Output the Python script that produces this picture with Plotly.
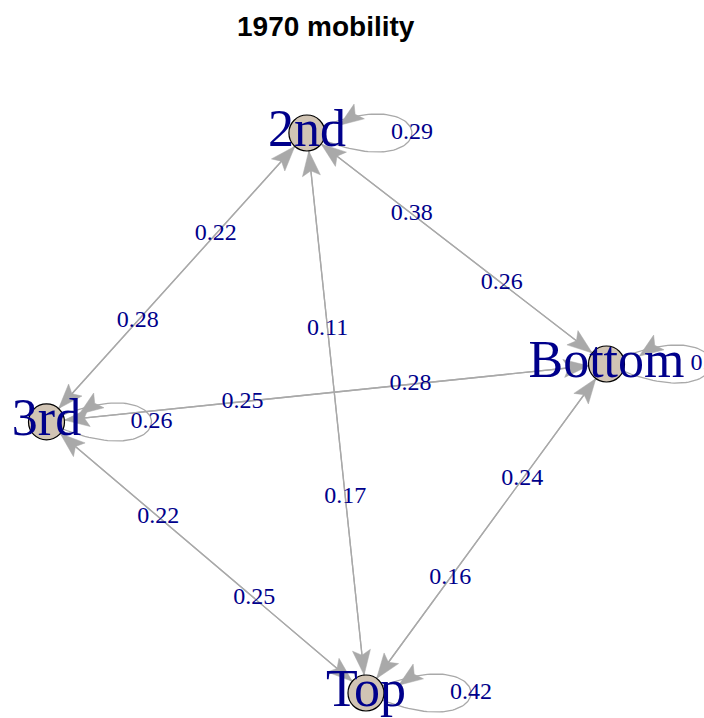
import numpy as np
import plotly.graph_objects as go

# ---------------- data ----------------
node_names = ["2nd", "Bottom", "3rd", "Top"]
# layout coordinates (igraph-style, rescaled to [-1, 1])
node_x = [-0.070, 1.000, -1.000, 0.141]
node_y = [1.000, 0.175, -0.032, -1.000]

edge_from = ["2nd", "3rd", "2nd", "Bottom", "2nd", "Top", "Bottom", "3rd", "3rd", "Top", "Bottom", "Top"]
edge_to = ["3rd", "2nd", "Bottom", "2nd", "Top", "2nd", "3rd", "Bottom", "Top", "3rd", "Top", "Bottom"]
edge_weight = [0.22, 0.28, 0.38, 0.26, 0.11, 0.17, 0.28, 0.25, 0.22, 0.25, 0.24, 0.16]

loop_nodes = ["2nd", "Bottom", "3rd", "Top"]
loop_weight = [0.29, 0.22, 0.26, 0.42]

title_text = "1970 mobility"

# ---------------- styling ----------------
W, H = 704, 718
PX = 280.0                      # pixels per layout unit
CX, CY = 326.5, 413.0           # pixel position of layout origin
EDGE_COL = "#A9A9A9"
LAB_COL = "#00008B"
NODE_FILL = "#D1C4B4"
R_NODE = 18.0 / PX
ARR_L, ARR_W, ARR_N = 25.0 / PX, 9.0 / PX, 5.0 / PX
LOOP_W, LOOP_H = 140.0 / PX, 66.0 / PX
LABEL_T = 0.35

pos = {n: np.array([x, y]) for n, x, y in zip(node_names, node_x, node_y)}

fig = go.Figure()


def arrow_poly(tip, u, L=ARR_L, Wd=ARR_W, N=ARR_N):
    """u: unit vector pointing from tip backwards along the shaft."""
    n = np.array([-u[1], u[0]])
    back = tip + L * u
    notch = tip + (L - N) * u
    pts = [tip, back + Wd * n, notch, back - Wd * n, tip]
    return [p[0] for p in pts], [p[1] for p in pts]


# edge lines
lx, ly = [], []
for s, t in zip(edge_from, edge_to):
    a, b = pos[s], pos[t]
    lx += [a[0], b[0], None]
    ly += [a[1], b[1], None]
fig.add_trace(go.Scatter(x=lx, y=ly, mode="lines", line=dict(color=EDGE_COL, width=1.3),
                         hoverinfo="skip", showlegend=False))

# loops
tt = np.linspace(0, 1, 80)
loop_arrows = []
for n in loop_nodes:
    c = pos[n]
    P0, P1, P2, P3 = c, c + np.array([LOOP_W, LOOP_H]), c + np.array([LOOP_W, -LOOP_H]), c
    bx = ((1 - tt) ** 3)[:, None] * P0 + (3 * (1 - tt) ** 2 * tt)[:, None] * P1 + \
         (3 * (1 - tt) * tt ** 2)[:, None] * P2 + (tt ** 3)[:, None] * P3
    fig.add_trace(go.Scatter(x=bx[:, 0], y=bx[:, 1], mode="lines",
                             line=dict(color=EDGE_COL, width=1.3),
                             hoverinfo="skip", showlegend=False))
    # arrow tip on upper branch near node
    t0 = 0.085
    tip = (1 - t0) ** 3 * P0 + 3 * (1 - t0) ** 2 * t0 * P1 + 3 * (1 - t0) * t0 ** 2 * P2 + t0 ** 3 * P3
    tip = tip + np.array([0, -5.0 / PX])
    ang = np.deg2rad(35)
    u = np.array([np.cos(ang), np.sin(ang)])
    loop_arrows.append(arrow_poly(tip, u, L=24.0 / PX, Wd=9.0 / PX, N=5.0 / PX))

# edge arrowheads
for s, t in zip(edge_from, edge_to):
    a, b = pos[s], pos[t]
    u = (a - b) / np.linalg.norm(a - b)
    tip = b + R_NODE * u
    ax_, ay_ = arrow_poly(tip, u)
    fig.add_trace(go.Scatter(x=ax_, y=ay_, mode="lines", fill="toself", fillcolor=EDGE_COL,
                             line=dict(color=EDGE_COL, width=0.5), hoverinfo="skip", showlegend=False))
for ax_, ay_ in loop_arrows:
    fig.add_trace(go.Scatter(x=ax_, y=ay_, mode="lines", fill="toself", fillcolor=EDGE_COL,
                             line=dict(color=EDGE_COL, width=0.5), hoverinfo="skip", showlegend=False))

# edge labels
ex, ey, et = [], [], []
for s, t, w in zip(edge_from, edge_to, edge_weight):
    a, b = pos[s], pos[t]
    p = a + LABEL_T * (b - a)
    ex.append(p[0]); ey.append(p[1]); et.append(f"{w:.2f}")
for n, w in zip(loop_nodes, loop_weight):
    c = pos[n]
    ex.append(c[0] + 0.75 * LOOP_W); ey.append(c[1]); et.append(f"{w:.2f}")

# vertices
fig.add_trace(go.Scatter(x=node_x, y=node_y, mode="markers",
                         marker=dict(size=2 * R_NODE * PX, color=NODE_FILL,
                                     line=dict(color="black", width=1.2)),
                         hoverinfo="skip", showlegend=False))
fig.add_trace(go.Scatter(x=ex, y=ey, mode="text", text=et, textposition="middle center",
                         textfont=dict(family="Liberation Serif", size=24, color=LAB_COL),
                         hoverinfo="skip", showlegend=False))
fig.add_trace(go.Scatter(x=node_x, y=node_y, mode="text", text=node_names, textposition="middle center",
                         textfont=dict(family="Liberation Serif", size=52, color=LAB_COL),
                         hoverinfo="skip", showlegend=False))

fig.update_layout(
    width=W, height=H, margin=dict(l=0, r=0, t=0, b=0),
    plot_bgcolor="white", paper_bgcolor="white",
    xaxis=dict(range=[-CX / PX, (W - CX) / PX], visible=False, fixedrange=True),
    yaxis=dict(range=[(CY - H) / PX, CY / PX], visible=False, fixedrange=True),
    annotations=[dict(text=f"<b>{title_text}</b>", x=326 / W, y=1 - 26 / H, xref="paper", yref="paper",
                      xanchor="center", yanchor="middle", showarrow=False,
                      font=dict(family="Liberation Sans", size=28, color="black"))],
)
fig.write_html("out.html", config={"displayModeBar": False},
               post_script="document.body.style.margin='0px';document.body.style.overflow='hidden';")
